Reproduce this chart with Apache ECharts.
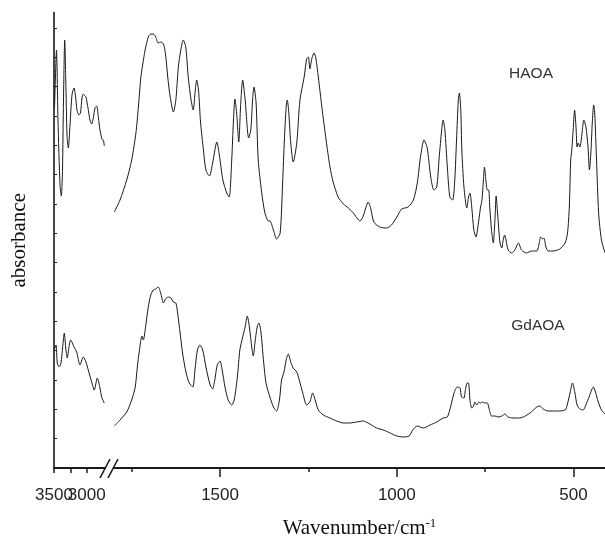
<!DOCTYPE html>
<html>
<head>
<meta charset="utf-8">
<script src="https://cdn.jsdelivr.net/npm/echarts@6/dist/echarts.min.js"></script>
<style>html,body{margin:0;padding:0;background:#fff}#c{width:605px;height:537px}</style>
</head>
<body>
<div id="c"></div>
<script>
// ---- data: [wavenumber (cm-1), absorbance (a.u.)] ----
var haoaHigh = [[3492,360],[3462,418],[3439,348],[3408,283],[3388,272],[3370,298],[3355,368],[3336,428],[3320,388],[3301,333],[3281,320],[3255,343],[3225,373],[3194,380],[3171,372],[3148,358],[3118,353],[3095,355],[3072,370],[3052,374],[3026,372],[3011,371],[2980,360],[2950,348],[2924,344],[2896,351],[2873,360],[2847,362],[2820,350],[2797,338],[2771,330],[2758,328],[2746,328],[2731,322]];
var haoaLow = [[1799,256],[1783,268],[1764,288],[1750,308],[1738,335],[1731,361],[1724,391],[1719,403],[1712,418],[1703,431],[1696,434],[1689,434],[1682,431],[1675,425],[1668,426],[1660,424],[1654,413],[1648,391],[1641,371],[1632,356],[1625,368],[1618,401],[1611,418],[1604,428],[1597,421],[1590,391],[1582,368],[1576,358],[1570,378],[1566,388],[1561,378],[1555,345],[1547,318],[1540,298],[1530,292],[1521,305],[1509,326],[1502,313],[1492,288],[1481,275],[1474,271],[1467,308],[1462,348],[1458,369],[1453,355],[1447,326],[1442,361],[1436,388],[1429,368],[1419,330],[1413,338],[1408,368],[1404,381],[1398,365],[1392,308],[1382,275],[1373,255],[1363,247],[1359,247],[1349,238],[1340,229],[1330,235],[1323,285],[1318,328],[1313,361],[1310,368],[1306,358],[1300,325],[1293,306],[1283,325],[1274,368],[1262,391],[1255,409],[1250,411],[1246,399],[1240,410],[1234,415],[1229,410],[1222,391],[1212,361],[1200,328],[1189,301],[1180,286],[1166,271],[1151,264],[1137,260],[1123,255],[1104,247],[1095,252],[1087,261],[1081,266],[1074,260],[1065,246],[1048,241],[1029,240],[1015,243],[1000,251],[986,259],[968,261],[953,268],[942,285],[933,311],[923,328],[914,320],[904,291],[895,278],[887,281],[880,311],[873,338],[869,348],[864,338],[857,301],[850,271],[842,268],[836,288],[831,328],[826,368],[823,375],[819,358],[816,318],[810,281],[802,260],[797,271],[793,275],[788,261],[782,238],[776,231],[768,248],[763,261],[759,268],[755,288],[752,301],[748,288],[744,278],[740,278],[737,261],[732,238],[727,225],[722,251],[719,272],[715,255],[708,225],[703,220],[699,228],[695,233],[691,228],[685,218],[675,215],[666,218],[656,225],[647,218],[633,215],[619,217],[604,217],[597,225],[593,231],[587,229],[584,230],[578,221],[572,217],[558,217],[539,219],[524,225],[517,235],[512,261],[508,308],[505,318],[501,338],[497,358],[493,341],[490,321],[487,325],[482,321],[476,335],[471,348],[465,341],[459,321],[455,298],[451,315],[447,345],[443,363],[440,355],[435,308],[429,255],[421,228],[411,215]];
var gdaoaHigh = [[3495,118],[3469,123],[3450,105],[3419,101],[3393,105],[3367,121],[3343,135],[3317,118],[3297,110],[3271,121],[3245,128],[3194,121],[3153,116],[3102,103],[3052,111],[3011,106],[2976,98],[2924,86],[2884,78],[2838,90],[2797,80],[2771,71],[2731,65]];
var gdaoaLow = [[1799,42],[1783,48],[1764,56],[1750,68],[1740,81],[1734,101],[1728,118],[1721,132],[1717,128],[1710,143],[1703,161],[1696,173],[1689,178],[1682,179],[1675,181],[1668,175],[1660,165],[1654,169],[1646,171],[1639,170],[1632,166],[1625,165],[1620,155],[1613,135],[1606,115],[1596,95],[1587,85],[1577,81],[1571,98],[1564,118],[1557,123],[1549,118],[1540,101],[1528,83],[1521,79],[1514,90],[1508,103],[1500,107],[1494,98],[1486,81],[1477,68],[1467,63],[1460,68],[1451,91],[1444,118],[1436,131],[1429,141],[1423,152],[1417,141],[1410,120],[1406,112],[1401,126],[1395,141],[1390,145],[1384,135],[1378,111],[1370,85],[1359,71],[1349,61],[1340,57],[1332,68],[1326,88],[1319,96],[1313,108],[1307,114],[1300,106],[1293,100],[1283,96],[1276,88],[1266,75],[1255,63],[1246,66],[1238,75],[1231,68],[1222,58],[1208,53],[1189,50],[1170,47],[1151,45],[1134,45],[1113,46],[1095,47],[1081,45],[1057,40],[1038,38],[1019,35],[1000,32],[982,31],[965,32],[955,38],[942,42],[925,40],[906,43],[887,46],[869,50],[857,51],[848,61],[838,75],[829,81],[821,80],[817,71],[810,70],[806,78],[801,85],[797,85],[793,68],[788,60],[784,61],[779,66],[774,63],[768,66],[763,65],[758,66],[751,65],[744,65],[738,58],[732,52],[722,52],[713,51],[703,52],[694,54],[685,51],[671,50],[656,50],[642,51],[623,55],[604,61],[595,62],[586,59],[572,57],[548,57],[524,58],[518,63],[510,75],[503,85],[496,75],[490,63],[482,59],[473,58],[463,65],[456,71],[449,78],[444,81],[438,76],[430,66],[421,58],[411,54]];
var highTickMajor = [3500, 3000];
var highTickMinor = [3250];
var lowTickMajor = [1500, 1000, 500];
var lowTickMinor = [1750, 1250, 750];
var seriesNames = ['HAOA', 'GdAOA'];
var xAxisTitle = 'Wavenumber/cm';
var yAxisTitle = 'absorbance';
var yMax = 455.5, yStep = 29.35;
var yTicks = []; for (var i = 0; i <= 15; i++) yTicks.push(+(i * yStep).toFixed(2));

var ink = '#1a1a1a';
var chart = echarts.init(document.getElementById('c'), null, {renderer: 'canvas'});
var lblBase = {fontFamily: 'Liberation Sans, Arial, sans-serif', fontSize: 17, color: '#222',
  margin: 19, hideOverlap: false, interval: 0, showMinLabel: true, showMaxLabel: true,
  formatter: function (v) { return String(v); }};
function lineSeries(name, data, idx) {
  return {name: name, type: 'line', xAxisIndex: idx, yAxisIndex: idx === 0 ? 0 : 1, data: data,
    showSymbol: false, smooth: 0.25, lineStyle: {color: ink, width: 1}, animation: false, silent: true};
}
function bareAxis(grid, min, max, ticks, tickLen, labels) {
  return {gridIndex: grid, type: 'value', position: 'bottom', offset: 0, inverse: true, min: min, max: max,
    axisLine: {show: false},
    axisTick: {show: ticks.length > 0, length: tickLen, lineStyle: {color: ink, width: 1.5}, customValues: ticks},
    axisLabel: labels ? Object.assign({show: true, customValues: labels}, lblBase) : {show: false},
    splitLine: {show: false}};
}
chart.setOption({
  animation: false,
  grid: [
    {left: 54, top: 12.5, width: 51, height: yMax, outerBoundsMode: 'none'},
    {left: 114, top: 12.5, width: 491, height: yMax, outerBoundsMode: 'none'}
  ],
  xAxis: [
    {gridIndex: 0, type: 'value', position: 'bottom', inverse: true, min: 2720, max: 3500,
     axisLine: {show: true, lineStyle: {color: ink, width: 2}},
     axisTick: {show: true, length: 5, lineStyle: {color: ink, width: 1.5}, customValues: highTickMajor.concat(highTickMinor)},
     axisLabel: Object.assign({show: true, customValues: [highTickMajor[0]]}, lblBase),
     splitLine: {show: false}},
    {gridIndex: 1, type: 'value', position: 'bottom', inverse: true, min: 411, max: 1800,
     axisLine: {show: true, lineStyle: {color: ink, width: 2}},
     axisTick: {show: true, length: 9, lineStyle: {color: ink, width: 1.5}, customValues: lowTickMajor},
     axisLabel: Object.assign({show: true, customValues: lowTickMajor}, lblBase),
     splitLine: {show: false},
     name: '{a|' + xAxisTitle + '}{s|-1}', nameLocation: 'middle', nameGap: 49,
     nameTextStyle: {rich: {
       a: {fontFamily: 'Liberation Serif, Times New Roman, serif', fontSize: 21, color: '#111'},
       s: {fontFamily: 'Liberation Serif, Times New Roman, serif', fontSize: 13, color: '#111', padding: [0, 0, 9, 0]}
     }}},
    bareAxis(1, 411, 1800, lowTickMinor, 4, null),
    bareAxis(0, 2720, 3500, [], 0, highTickMajor.slice(1))
  ],
  yAxis: [
    {gridIndex: 0, type: 'value', min: 0, max: yMax,
     axisLine: {show: true, lineStyle: {color: ink, width: 1.6}},
     axisTick: {show: true, inside: true, length: 3, lineStyle: {color: ink, width: 1}, customValues: yTicks},
     axisLabel: {show: false}, splitLine: {show: false},
     name: yAxisTitle, nameLocation: 'middle', nameGap: 24,
     nameTextStyle: {fontFamily: 'Liberation Serif, Times New Roman, serif', fontSize: 21, color: '#111'}},
    {gridIndex: 1, type: 'value', min: 0, max: yMax, show: false}
  ],
  series: [
    lineSeries(seriesNames[0], haoaHigh, 0),
    lineSeries(seriesNames[0], haoaLow, 1),
    lineSeries(seriesNames[1], gdaoaHigh, 0),
    lineSeries(seriesNames[1], gdaoaLow, 1)
  ],
  graphic: [
    {type: 'line', shape: {x1: 100, y1: 478, x2: 110, y2: 459}, style: {stroke: ink, lineWidth: 1.6}},
    {type: 'line', shape: {x1: 108, y1: 478, x2: 118, y2: 459}, style: {stroke: ink, lineWidth: 1.6}},
    {type: 'text', x: 531, y: 74, style: {text: seriesNames[0], font: '15.5px "Liberation Sans", Arial, sans-serif', fill: '#333', align: 'center', verticalAlign: 'middle'}},
    {type: 'text', x: 538, y: 326, style: {text: seriesNames[1], font: '15.5px "Liberation Sans", Arial, sans-serif', fill: '#333', align: 'center', verticalAlign: 'middle'}}
  ]
});
</script>
</body>
</html>
